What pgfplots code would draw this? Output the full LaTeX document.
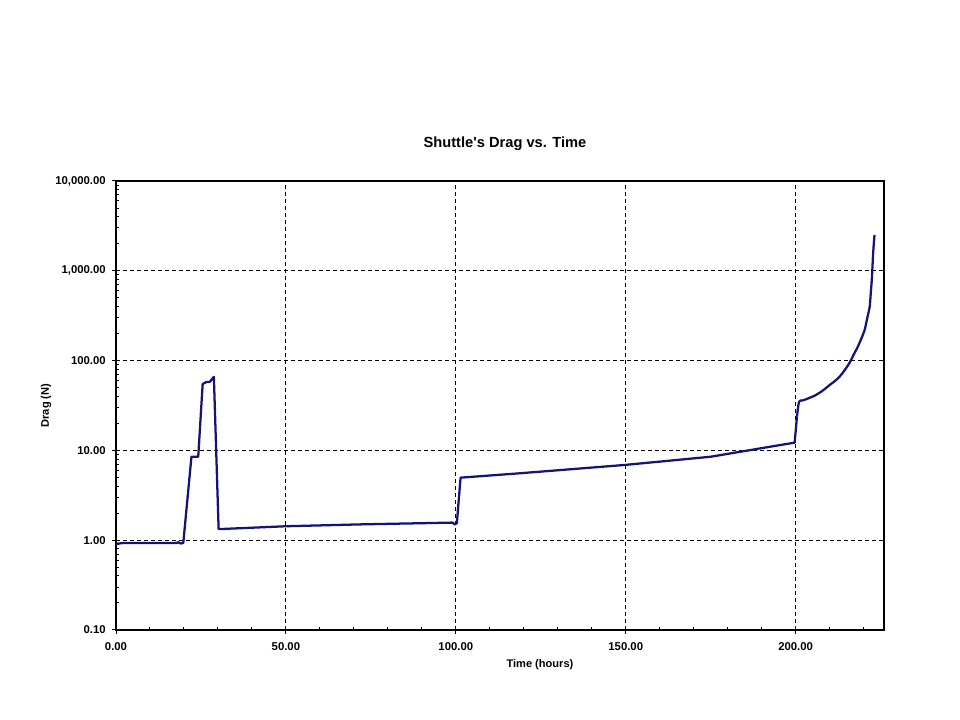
\documentclass[border=0pt]{standalone}
\usepackage{fontspec}
\setmainfont{Liberation Sans}
\usepackage{pgfplots}
\pgfplotsset{compat=1.18}
\definecolor{navyline}{RGB}{20,20,120}
\pgfplotstableread{
t v
0 0.91
2 0.93
17.8 0.93
18.3 0.95
19.0 0.92
19.8 0.93
22.2 8.5
24.2 8.5
25.5 54.7
26.5 57.6
27.6 58
28.8 66
30.2 1.33
30.6 1.33
50 1.43
72 1.50
99 1.57
99.7 1.50
100.3 1.55
101.4 4.97
118.8 5.56
150 6.9
175 8.5
189.4 10.5
199.7 12.2
200.4 24
}\dragdataA
\pgfplotstableread{
t v
200.4 24
201.0 34.8
202.0 36
203.0 37
204.1 38.5
205.5 40.5
207.1 44
208.5 48
210 53.5
211.5 59
212.9 66
214.5 79
215.9 95
217 115
218.3 143
219.3 175
220.3 219
221 290
221.5 350
221.8 398
222.1 560
222.4 791
222.6 1100
222.8 1567
223.0 2000
223.2 2508
}\dragdataB
\begin{document}
\begin{tikzpicture}
\path[use as bounding box] (0,0) rectangle (720pt,540pt);
\begin{axis}[
  at={(87pt,67.5pt)}, anchor=south west,
  scale only axis, width=576pt, height=336.75pt,
  ymode=log, xmin=0, xmax=226, ymin=0.1, ymax=10000,
  xtick={0,50,100,150,200},
  xticklabels={0.00,50.00,100.00,150.00,200.00},
  minor xtick={10,20,30,40,60,70,80,90,110,120,130,140,160,170,180,190,210,220},
  ytick={0.1,1,10,100,1000,10000},
  yticklabels={0.10,1.00,10.00,100.00,{1,000.00},{10,000.00}},
  minor ytick={0.2,0.3,0.4,0.5,0.6,0.7,0.8,0.9,2,3,4,5,6,7,8,9,20,30,40,50,60,70,80,90,200,300,400,500,600,700,800,900,2000,3000,4000,5000,6000,7000,8000,9000},
  xtick pos=bottom, ytick pos=left,
  tick align=inside,
  major tick length=3.5pt, minor tick length=2.5pt,
  major x tick style={yshift=-3pt},
  major y tick style={xshift=-3pt},
  every tick/.style={black, line width=0.75pt},
  grid=major,
  major grid style={black, line width=0.75pt, dash pattern=on 3pt off 2.25pt},
  axis line style={black, line width=0.9pt},
  xticklabel style={font=\fontsize{8.5}{10}\selectfont\bfseries, inner sep=0pt, yshift=-9.5pt},
  yticklabel style={font=\fontsize{8.5}{10}\selectfont\bfseries, inner sep=0pt, xshift=-7.5pt},
  xlabel={Time (hours)},
  ylabel={Drag (N)},
  xlabel style={font=\fontsize{8.3}{10}\selectfont\bfseries, at={(axis description cs:0.552,-0.078)}, anchor=center},
  ylabel style={font=\fontsize{8.3}{10}\selectfont\bfseries, at={(axis description cs:-0.0911,0.5)}, anchor=center, rotate=0},
  title={Shuttle\textquotesingle s Drag vs. Time},
  every axis title shift=0pt,
  title style={font=\fontsize{11}{13}\selectfont\bfseries, at={(axis description cs:0.5065,1.082)}, anchor=center},
]
\addplot[navyline, line width=1.7pt, line join=round] table[x=t,y=v] {\dragdataA};
\addplot[navyline, line width=1.7pt, line join=round, smooth] table[x=t,y=v] {\dragdataB};
\end{axis}
\end{tikzpicture}
\end{document}
